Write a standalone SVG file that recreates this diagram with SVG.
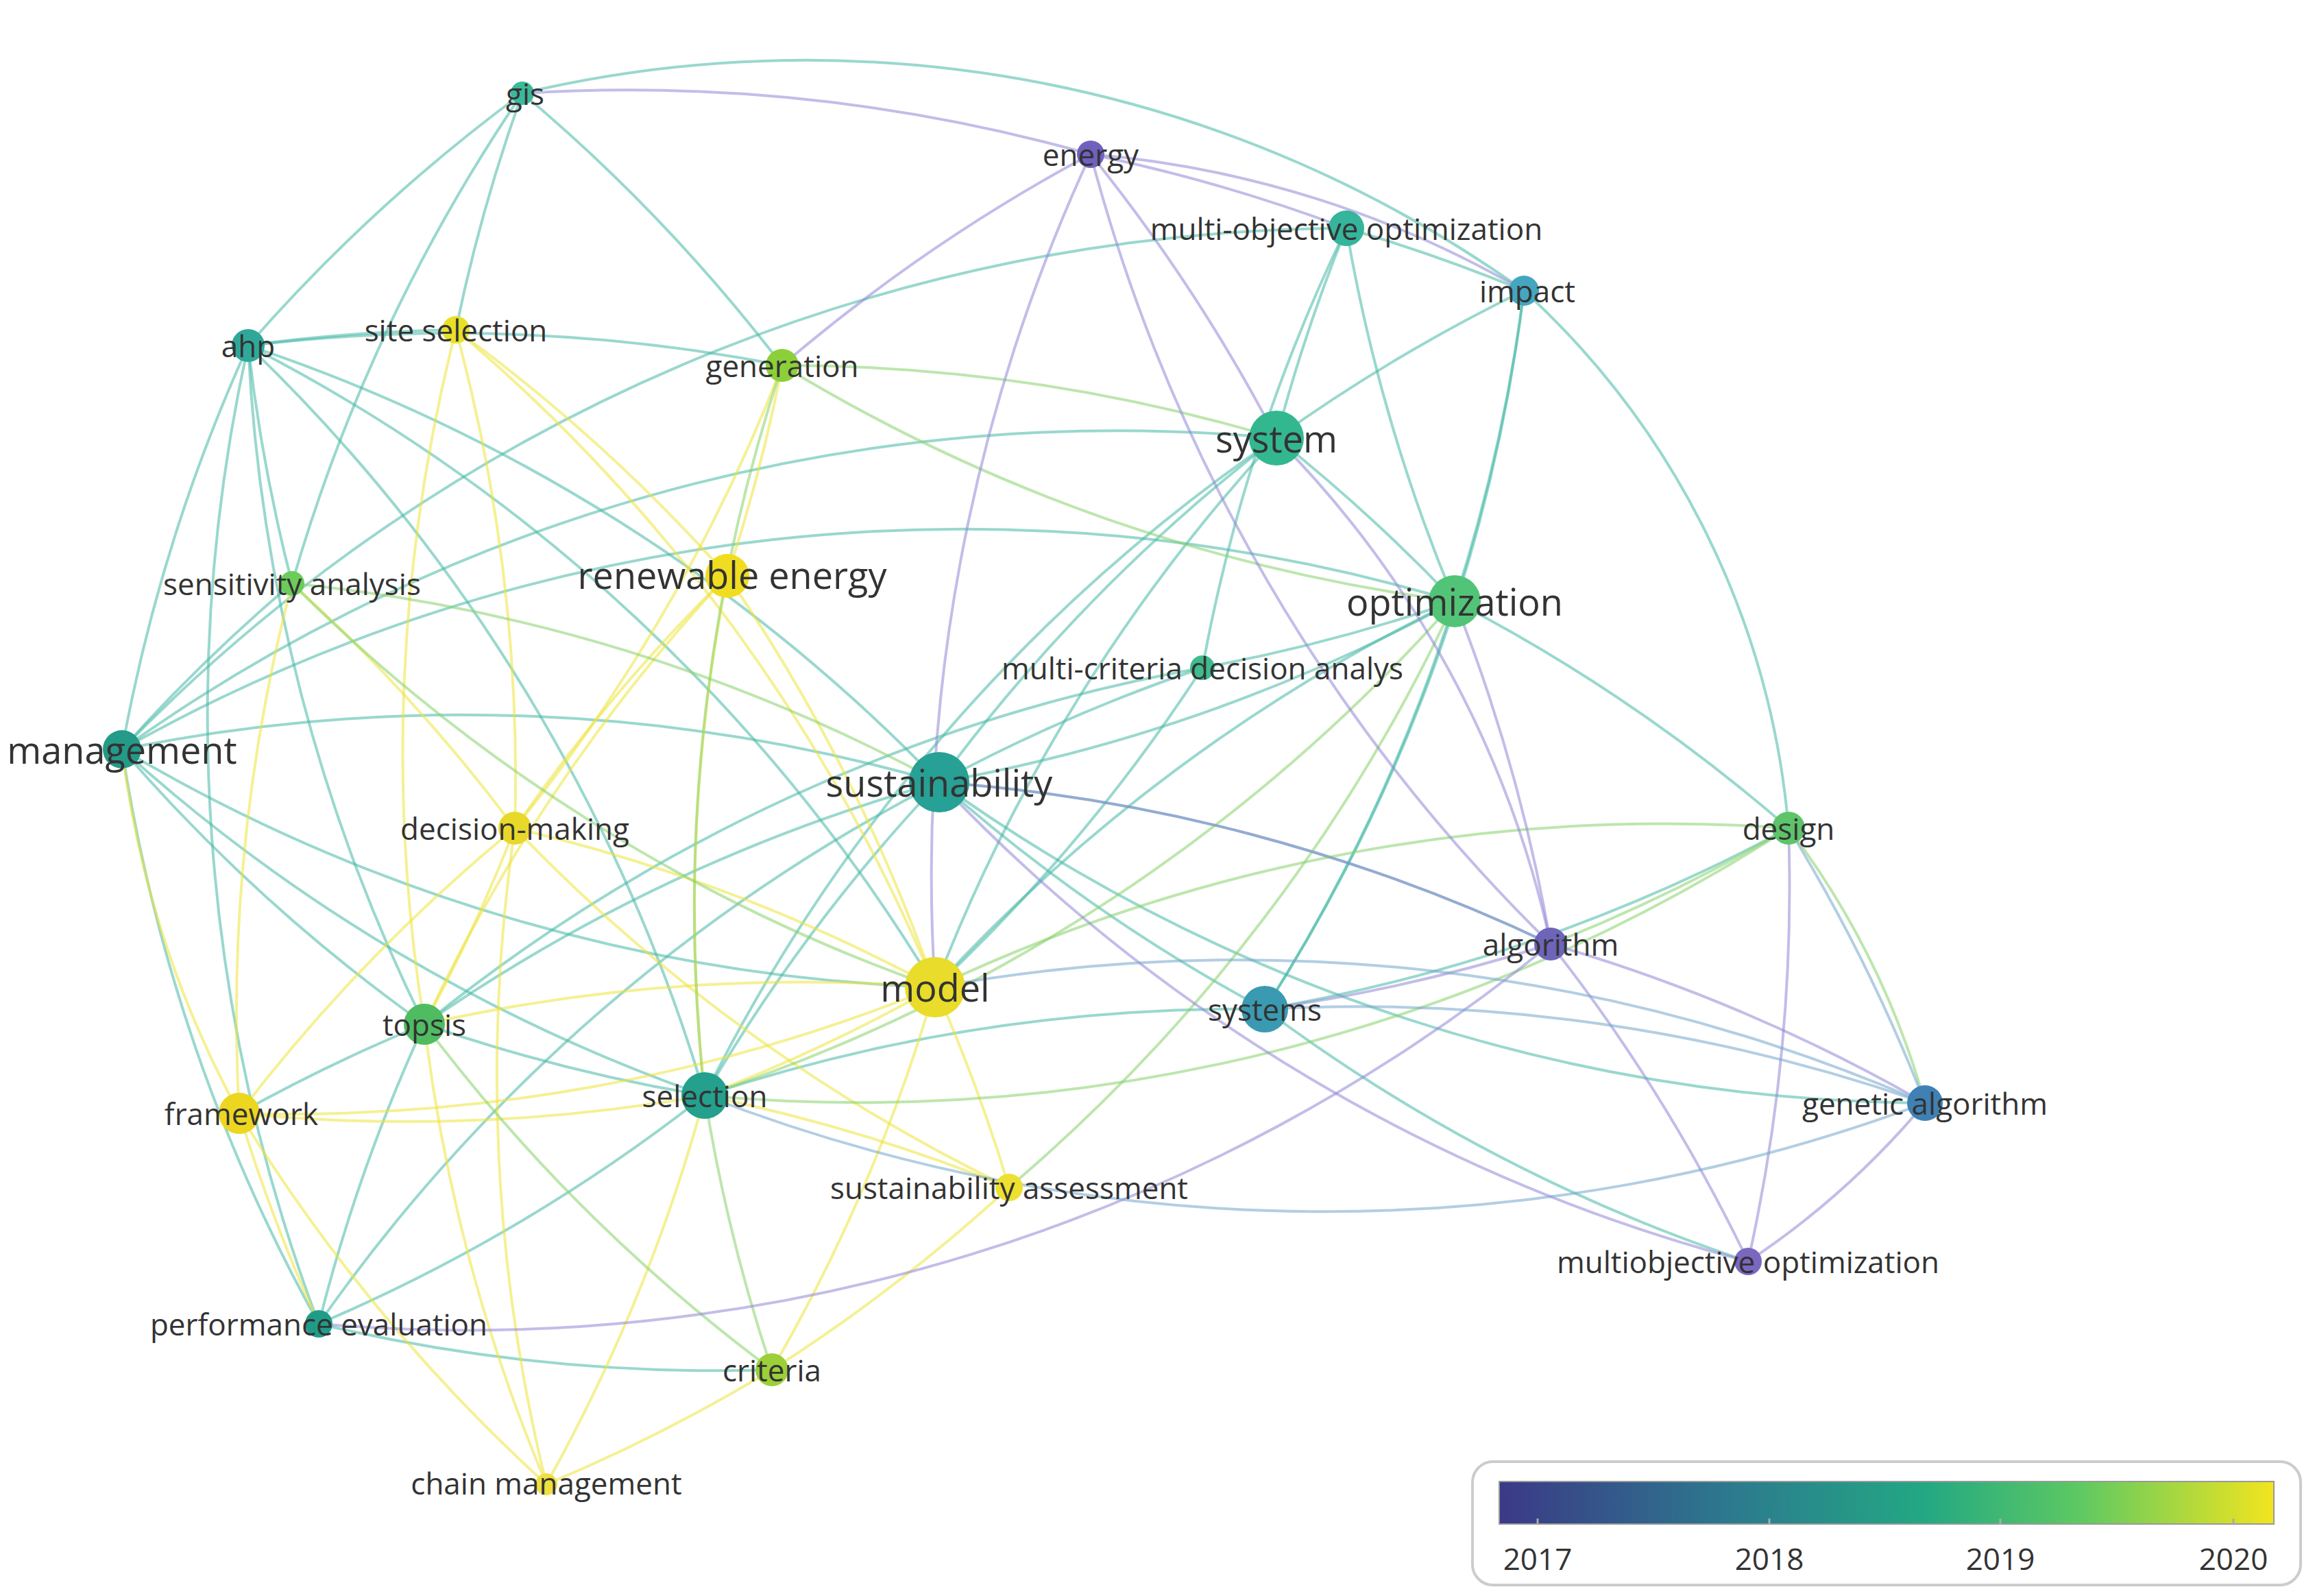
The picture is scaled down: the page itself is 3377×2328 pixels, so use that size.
<svg xmlns="http://www.w3.org/2000/svg" width="3377" height="2328" viewBox="0 0 3377 2328">
<defs>
<linearGradient id="vir" x1="0" x2="1" y1="0" y2="0">
<stop offset="0" stop-color="#3b3987"/><stop offset="0.3" stop-color="#2c7a8e"/><stop offset="0.55" stop-color="#23a883"/><stop offset="0.75" stop-color="#5ec962"/><stop offset="1" stop-color="#f2e51e"/>
</linearGradient>
<style>
path{fill:none;stroke-width:4;stroke-opacity:0.55}
.t{stroke:#45b8a6}.y{stroke:#ece43a}.g{stroke:#86d26a}.p{stroke:#8f86d6}.b{stroke:#72a6cc}
text{font-family:"Open Sans","Liberation Sans",sans-serif;fill:#333;text-anchor:middle;dominant-baseline:central;font-size:44px}
.L{font-size:54px}
</style>
</defs>
<rect width="3377" height="2328" fill="#fff"/>
<g id="connectors">
<path class="t" d="M762 136 A2500 2500 0 0 0 362 504"/>
<path class="t" d="M762 136 A2500 2500 0 0 0 665 481"/>
<path class="t" d="M762 136 A2500 2500 0 0 1 1141 533"/>
<path class="t" d="M762 136 A2500 2500 0 0 0 426 851"/>
<path class="t" d="M762 136 A1800 1800 0 0 1 2223 424"/>
<path class="t" d="M362 504 A2500 2500 0 0 1 665 481"/>
<path class="t" d="M362 504 A2500 2500 0 0 0 426 851"/>
<path class="t" d="M362 504 A2500 2500 0 0 0 178 1093"/>
<path class="t" d="M362 504 A2500 2500 0 0 0 619 1494"/>
<path class="t" d="M362 504 A2500 2500 0 0 1 1370 1141"/>
<path class="t" d="M362 504 A2500 2500 0 0 1 1028 1598"/>
<path class="t" d="M362 504 A2500 2500 0 0 0 465 1931"/>
<path class="t" d="M362 504 A2500 2500 0 0 1 1141 533"/>
<path class="t" d="M362 504 A2500 2500 0 0 1 1364 1440"/>
<path class="t" d="M178 1093 A2500 2500 0 0 1 1370 1141"/>
<path class="t" d="M178 1093 A2500 2500 0 0 0 619 1494"/>
<path class="t" d="M178 1093 A2500 2500 0 0 0 1028 1598"/>
<path class="t" d="M178 1093 A2500 2500 0 0 0 465 1931"/>
<path class="t" d="M178 1093 A2500 2500 0 0 1 426 851"/>
<path class="t" d="M178 1093 A2500 2500 0 0 1 2122 877"/>
<path class="t" d="M178 1093 A2500 2500 0 0 0 1364 1440"/>
<path class="t" d="M178 1093 A2500 2500 0 0 1 1862 639"/>
<path class="t" d="M1370 1141 A2500 2500 0 0 0 1028 1598"/>
<path class="t" d="M1370 1141 A2500 2500 0 0 0 1845 1472"/>
<path class="t" d="M1370 1141 A2500 2500 0 0 0 2122 877"/>
<path class="t" d="M1370 1141 A2500 2500 0 0 1 1862 639"/>
<path class="t" d="M1370 1141 A2500 2500 0 0 1 1754 974"/>
<path class="t" d="M1370 1141 A2500 2500 0 0 1 2262 1377"/>
<path class="t" d="M1370 1141 A2500 2500 0 0 0 2808 1609"/>
<path class="t" d="M1370 1141 A2500 2500 0 0 0 619 1494"/>
<path class="t" d="M1370 1141 A2500 2500 0 0 0 465 1931"/>
<path class="t" d="M1028 1598 A2500 2500 0 0 1 619 1494"/>
<path class="t" d="M1028 1598 A2500 2500 0 0 1 465 1931"/>
<path class="t" d="M1028 1598 A2500 2500 0 0 1 1845 1472"/>
<path class="t" d="M1028 1598 A2500 2500 0 0 1 1862 639"/>
<path class="t" d="M1862 639 A2500 2500 0 0 1 1964 333"/>
<path class="t" d="M1862 639 A2500 2500 0 0 1 2223 424"/>
<path class="t" d="M1862 639 A2500 2500 0 0 1 2122 877"/>
<path class="t" d="M1862 639 A2500 2500 0 0 0 1364 1440"/>
<path class="t" d="M2122 877 A2500 2500 0 0 0 2223 424"/>
<path class="t" d="M2122 877 A2500 2500 0 0 1 1964 333"/>
<path class="t" d="M2122 877 A2500 2500 0 0 1 2609 1208"/>
<path class="t" d="M2122 877 A2500 2500 0 0 1 1754 974"/>
<path class="t" d="M2122 877 A2500 2500 0 0 1 1845 1472"/>
<path class="t" d="M2122 877 A2500 2500 0 0 0 1364 1440"/>
<path class="t" d="M1964 333 A2500 2500 0 0 1 2223 424"/>
<path class="t" d="M1964 333 A2500 2500 0 0 0 1754 974"/>
<path class="t" d="M1964 333 A2500 2500 0 0 0 178 1093"/>
<path class="t" d="M2223 424 A1200 1200 0 0 1 2609 1208"/>
<path class="t" d="M2223 424 A2500 2500 0 0 1 1845 1472"/>
<path class="t" d="M1754 974 A2500 2500 0 0 1 1364 1440"/>
<path class="t" d="M1754 974 A2500 2500 0 0 0 619 1494"/>
<path class="t" d="M1845 1472 A2500 2500 0 0 0 2609 1208"/>
<path class="t" d="M1845 1472 A2500 2500 0 0 0 2550 1840"/>
<path class="t" d="M619 1494 A2500 2500 0 0 0 465 1931"/>
<path class="t" d="M619 1494 A2500 2500 0 0 0 349 1624"/>
<path class="t" d="M465 1931 A2500 2500 0 0 0 1126 1998"/>
<path class="y" d="M665 481 A2500 2500 0 0 1 1061 840"/>
<path class="y" d="M665 481 A2500 2500 0 0 1 751 1208"/>
<path class="y" d="M665 481 A2500 2500 0 0 0 619 1494"/>
<path class="y" d="M665 481 A2500 2500 0 0 1 1364 1440"/>
<path class="y" d="M1061 840 A2500 2500 0 0 0 751 1208"/>
<path class="y" d="M1061 840 A2500 2500 0 0 1 1364 1440"/>
<path class="y" d="M1061 840 A2500 2500 0 0 0 1141 533"/>
<path class="y" d="M1061 840 A2500 2500 0 0 0 1028 1598"/>
<path class="y" d="M1061 840 A2500 2500 0 0 0 619 1494"/>
<path class="y" d="M751 1208 A2500 2500 0 0 0 349 1624"/>
<path class="y" d="M751 1208 A2500 2500 0 0 1 1364 1440"/>
<path class="y" d="M751 1208 A2500 2500 0 0 0 1472 1732"/>
<path class="y" d="M751 1208 A2500 2500 0 0 0 797 2165"/>
<path class="y" d="M751 1208 A2500 2500 0 0 1 619 1494"/>
<path class="y" d="M1364 1440 A2500 2500 0 0 1 1472 1732"/>
<path class="y" d="M1364 1440 A2500 2500 0 0 1 1126 1998"/>
<path class="y" d="M1364 1440 A2500 2500 0 0 1 349 1624"/>
<path class="y" d="M1364 1440 A2500 2500 0 0 0 619 1494"/>
<path class="y" d="M349 1624 A2500 2500 0 0 0 1028 1598"/>
<path class="y" d="M349 1624 A2500 2500 0 0 0 465 1931"/>
<path class="y" d="M349 1624 A2500 2500 0 0 0 797 2165"/>
<path class="y" d="M797 2165 A2500 2500 0 0 0 1126 1998"/>
<path class="y" d="M797 2165 A2500 2500 0 0 0 1028 1598"/>
<path class="y" d="M797 2165 A2500 2500 0 0 1 619 1494"/>
<path class="y" d="M1472 1732 A2500 2500 0 0 0 1028 1598"/>
<path class="y" d="M1472 1732 A2500 2500 0 0 1 1126 1998"/>
<path class="y" d="M349 1624 A1500 1500 0 0 1 178 1093"/>
<path class="y" d="M1364 1440 A2500 2500 0 0 1 1028 1598"/>
<path class="y" d="M1141 533 A2500 2500 0 0 1 751 1208"/>
<path class="y" d="M426 851 A2500 2500 0 0 0 349 1624"/>
<path class="y" d="M426 851 A2500 2500 0 0 1 751 1208"/>
<path class="g" d="M1141 533 A2500 2500 0 0 1 1862 639"/>
<path class="g" d="M1141 533 A2500 2500 0 0 0 2122 877"/>
<path class="g" d="M1141 533 A2500 2500 0 0 0 1028 1598"/>
<path class="g" d="M2609 1208 A2500 2500 0 0 0 1364 1440"/>
<path class="g" d="M2609 1208 A2500 2500 0 0 1 1028 1598"/>
<path class="g" d="M2609 1208 A2500 2500 0 0 1 2262 1377"/>
<path class="g" d="M2609 1208 A1200 1200 0 0 1 2808 1609"/>
<path class="g" d="M2122 877 A2500 2500 0 0 1 1472 1732"/>
<path class="g" d="M2122 877 A2500 2500 0 0 1 1028 1598"/>
<path class="g" d="M1126 1998 A2500 2500 0 0 1 1028 1598"/>
<path class="g" d="M1126 1998 A2500 2500 0 0 1 619 1494"/>
<path class="g" d="M426 851 A2500 2500 0 0 0 1364 1440"/>
<path class="g" d="M426 851 A2500 2500 0 0 1 1370 1141"/>
<path class="p" d="M1591 225 A2500 2500 0 0 0 762 136"/>
<path class="p" d="M1591 225 A2500 2500 0 0 1 1862 639"/>
<path class="p" d="M1591 225 A2500 2500 0 0 0 2262 1377"/>
<path class="p" d="M1591 225 A2500 2500 0 0 1 1964 333"/>
<path class="p" d="M1591 225 A1500 1500 0 0 1 2223 424"/>
<path class="p" d="M1591 225 A2500 2500 0 0 0 1364 1440"/>
<path class="p" d="M1591 225 A2500 2500 0 0 0 1141 533"/>
<path class="p" d="M2262 1377 A2500 2500 0 0 1 2550 1840"/>
<path class="p" d="M2262 1377 A2500 2500 0 0 0 2122 877"/>
<path class="p" d="M2262 1377 A1500 1500 0 0 0 1862 639"/>
<path class="p" d="M2262 1377 A2500 2500 0 0 1 2808 1609"/>
<path class="p" d="M2262 1377 A2500 2500 0 0 1 1845 1472"/>
<path class="p" d="M2262 1377 A2500 2500 0 0 0 1370 1141"/>
<path class="p" d="M2262 1377 A2500 2500 0 0 1 465 1931"/>
<path class="p" d="M2550 1840 A1200 1200 0 0 0 2808 1609"/>
<path class="p" d="M2550 1840 A2500 2500 0 0 1 1370 1141"/>
<path class="p" d="M2550 1840 A2500 2500 0 0 0 2609 1208"/>
<path class="b" d="M2808 1609 A2500 2500 0 0 0 2609 1208"/>
<path class="b" d="M2808 1609 A2500 2500 0 0 1 1028 1598"/>
<path class="b" d="M2808 1609 A2500 2500 0 0 0 1364 1440"/>
<path class="b" d="M2808 1609 A2500 2500 0 0 0 1845 1472"/>
</g>
<g id="n-gis"><circle cx="762" cy="136" r="17" fill="#3cb89a"/><text x="766" y="136">gis</text></g>
<g id="n-energy"><circle cx="1591" cy="225" r="20" fill="#7061be"/><text x="1591" y="225">energy</text></g>
<g id="n-moo"><circle cx="1964" cy="333" r="26" fill="#35b59b"/><text x="1964" y="333">multi-objective optimization</text></g>
<g id="n-impact"><circle cx="2223" cy="424" r="22" fill="#45a6c0"/><text x="2228" y="424">impact</text></g>
<g id="n-ahp"><circle cx="362" cy="504" r="24" fill="#2fa89a"/><text x="362" y="504">ahp</text></g>
<g id="n-site"><circle cx="665" cy="481" r="20" fill="#e8e029"/><text x="665" y="481">site selection</text></g>
<g id="n-gen"><circle cx="1141" cy="533" r="24" fill="#8ccf3a"/><text x="1141" y="533">generation</text></g>
<g id="n-system"><circle cx="1862" cy="639" r="40" fill="#33b78f"/><text class="L" x="1862" y="639">system</text></g>
<g id="n-sa"><circle cx="426" cy="851" r="18" fill="#6ccc5a"/><text x="426" y="851">sensitivity analysis</text></g>
<g id="n-re"><circle cx="1061" cy="840" r="32" fill="#f0dd20"/><text class="L" x="1068" y="838">renewable energy</text></g>
<g id="n-opt"><circle cx="2122" cy="877" r="38" fill="#52c477"/><text class="L" x="2122" y="877">optimization</text></g>
<g id="n-mcda"><circle cx="1754" cy="974" r="18" fill="#3ebc8e"/><text x="1754" y="974">multi-criteria decision analys</text></g>
<g id="n-man"><circle cx="178" cy="1093" r="28" fill="#249a88"/><text class="L" x="178" y="1093">management</text></g>
<g id="n-sus"><circle cx="1370" cy="1141" r="44" fill="#27a095"/><text class="L" x="1370" y="1141">sustainability</text></g>
<g id="n-dm"><circle cx="751" cy="1208" r="24" fill="#e8d82a"/><text x="751" y="1208">decision-making</text></g>
<g id="n-design"><circle cx="2609" cy="1208" r="24" fill="#5ec46a"/><text x="2609" y="1208">design</text></g>
<g id="n-alg"><circle cx="2262" cy="1377" r="24" fill="#6e64b8"/><text x="2262" y="1377">algorithm</text></g>
<g id="n-model"><circle cx="1364" cy="1440" r="44" fill="#e9dc2a"/><text class="L" x="1364" y="1440">model</text></g>
<g id="n-systems"><circle cx="1845" cy="1472" r="34" fill="#3a9ab2"/><text x="1845" y="1472">systems</text></g>
<g id="n-topsis"><circle cx="619" cy="1494" r="30" fill="#4fbc62"/><text x="619" y="1494">topsis</text></g>
<g id="n-fw"><circle cx="349" cy="1624" r="30" fill="#ecd620"/><text x="352" y="1624">framework</text></g>
<g id="n-sel"><circle cx="1028" cy="1598" r="34" fill="#23a08e"/><text x="1028" y="1598">selection</text></g>
<g id="n-ga"><circle cx="2808" cy="1609" r="26" fill="#3f81b5"/><text x="2808" y="1609">genetic algorithm</text></g>
<g id="n-sas"><circle cx="1472" cy="1732" r="20" fill="#eee030"/><text x="1472" y="1732">sustainability assessment</text></g>
<g id="n-mo"><circle cx="2550" cy="1840" r="20" fill="#7a68c0"/><text x="2550" y="1840">multiobjective optimization</text></g>
<g id="n-pe"><circle cx="465" cy="1931" r="20" fill="#1f9c88"/><text x="465" y="1931">performance evaluation</text></g>
<g id="n-cri"><circle cx="1126" cy="1998" r="24" fill="#9ccf3a"/><text x="1126" y="1998">criteria</text></g>
<g id="n-cm"><circle cx="797" cy="2165" r="16" fill="#eee040"/><text x="797" y="2163">chain management</text></g>
<g id="legend">
<rect x="2148" y="2132" width="1208" height="180" rx="30" fill="#fff" stroke="#ccc" stroke-width="4"/>
<rect x="2187" y="2161" width="1130" height="62" fill="url(#vir)" stroke="#999" stroke-width="2"/>
<g stroke="#aaa" stroke-width="3"><line x1="2243" y1="2215" x2="2243" y2="2223"/><line x1="2581" y1="2215" x2="2581" y2="2223"/><line x1="2918" y1="2215" x2="2918" y2="2223"/><line x1="3258" y1="2215" x2="3258" y2="2223"/></g>
<text x="2243" y="2273">2017</text><text x="2581" y="2273">2018</text><text x="2918" y="2273">2019</text><text x="3258" y="2273">2020</text>
</g>
</svg>
